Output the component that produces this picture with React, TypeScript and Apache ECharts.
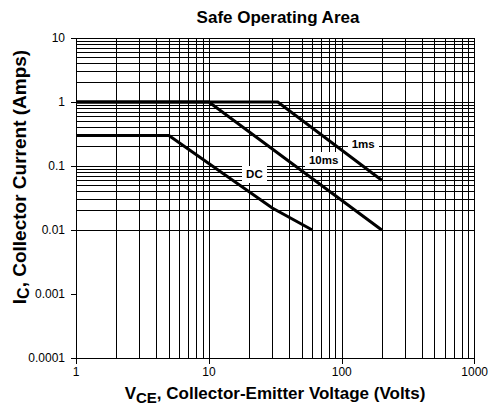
import React, { useEffect, useRef } from 'react';
import * as echarts from 'echarts';

// Axis ticks
const xTicks = [1, 10, 100, 1000];
const xTickLabels = ['1', '10', '100', '1000'];
const yTicks = [0.0001, 0.001, 0.01, 0.1, 1, 10];
const yTickLabels = ['0.0001', '0.001', '0.01', '0.1', '1', '10'];

// Log grid: multipliers inside each decade
const gridMultipliers = [1, 2, 3, 4, 5, 6, 7, 8, 9];
const xDecades = [1, 10, 100];
const yDecades = [0.0001, 0.001, 0.01, 0.1, 1];

// Curves (V in volts, I in amps)
const curveNames = ['1ms', '10ms', 'DC'];
const curve1msV = [1, 33, 200];
const curve1msI = [1, 1, 0.06];
const curve10msV = [1, 10, 200];
const curve10msI = [1, 1, 0.01];
const curveDcV = [1, 5, 30, 60];
const curveDcI = [0.3, 0.3, 0.022, 0.01];

// Curve label anchors
const labelV = [145, 73, 22];
const labelI = [0.22, 0.123, 0.074];

const FONT = 'Arial, "Liberation Sans", Helvetica, sans-serif';

function pairs(xs: number[], ys: number[]) {
  return xs.map((x, i) => [x, ys[i]]);
}

function tickFormatter(ticks: number[], labels: string[]) {
  return (v: number) => {
    const i = ticks.findIndex((t) => Math.abs(Math.log10(t) - Math.log10(v)) < 1e-6);
    return i >= 0 ? labels[i] : '';
  };
}

const CSS = `
#soa-chart svg path { shape-rendering: crispEdges; }
#soa-chart svg path[stroke-width="3"] { shape-rendering: auto; }
`;

export default function App() {
  const ref = useRef<HTMLDivElement>(null);

  useEffect(() => {
    document.body.style.margin = '0';
    if (!ref.current) return;
    const chart = echarts.init(ref.current, undefined, { renderer: 'svg' });

    const xGrid: number[] = [];
    xDecades.forEach((d) => gridMultipliers.forEach((m) => xGrid.push(d * m)));
    xGrid.push(xTicks[xTicks.length - 1]);
    const yGrid: number[] = [];
    yDecades.forEach((d) => gridMultipliers.forEach((m) => yGrid.push(d * m)));
    yGrid.push(yTicks[yTicks.length - 1]);

    const curveLine = (name: string, data: number[][]) => ({
      name,
      type: 'line',
      data,
      symbol: 'none',
      z: 3,
      silent: true,
      lineStyle: { color: '#000', width: 3, cap: 'butt', join: 'miter' },
      emphasis: { disabled: true },
    });

    const option: any = {
      animation: false,
      grid: { left: 76, right: 16, top: 38, bottom: 52, containLabel: false },
      xAxis: {
        type: 'log',
        logBase: 10,
        min: 1,
        max: 1000,
        splitLine: { show: false },
        axisLine: { show: true, lineStyle: { color: '#000', width: 1 } },
        axisTick: { show: true, length: 6, lineStyle: { color: '#000', width: 1 } },
        axisLabel: {
          color: '#000',
          fontSize: 12,
          fontFamily: FONT,
          margin: 8,
          formatter: tickFormatter(xTicks, xTickLabels),
        },
      },
      yAxis: {
        type: 'log',
        logBase: 10,
        min: 0.0001,
        max: 10,
        splitLine: { show: false },
        axisLine: { show: true, lineStyle: { color: '#000', width: 1 } },
        axisTick: { show: true, length: 5, lineStyle: { color: '#000', width: 1 } },
        axisLabel: {
          color: '#000',
          fontSize: 12,
          fontFamily: FONT,
          margin: 11,
          formatter: tickFormatter(yTicks, yTickLabels),
        },
      },
      graphic: [
        {
          type: 'text',
          x: 278,
          y: 17,
          style: {
            text: 'Safe Operating Area',
            align: 'center',
            verticalAlign: 'middle',
            fontSize: 17,
            fontWeight: 'bold',
            fontFamily: FONT,
            fill: '#000',
          },
        },
        {
          type: 'text',
          x: 275,
          y: 393,
          style: {
            text: '{m|V}{s|CE}{m|, Collector-Emitter Voltage (Volts)}',
            align: 'center',
            verticalAlign: 'middle',
            rich: {
              m: { fontSize: 17, fontWeight: 'bold', fontFamily: FONT, fill: '#000' },
              s: { fontSize: 15, fontWeight: 'bold', fontFamily: FONT, fill: '#000', padding: [9, 0, 0, 0] },
            },
          },
        },
        {
          type: 'text',
          x: 19,
          y: 177,
          rotation: Math.PI / 2,
          style: {
            text: '{m|I}{s|C}{m|, Collector Current (Amps)}',
            align: 'center',
            verticalAlign: 'middle',
            rich: {
              m: { fontSize: 19, fontWeight: 'bold', fontFamily: FONT, fill: '#000' },
              s: { fontSize: 16, fontWeight: 'bold', fontFamily: FONT, fill: '#000', padding: [9, 0, 0, 0] },
            },
          },
        },
      ],
      series: [
        {
          name: 'grid',
          type: 'line',
          data: [[1, 1]],
          symbol: 'none',
          silent: true,
          z: 1,
          lineStyle: { width: 0, opacity: 0 },
          markLine: {
            silent: true,
            z: 1,
            symbol: ['none', 'none'],
            label: { show: false },
            emphasis: { disabled: true },
            lineStyle: { color: '#000', width: 1, type: 'solid', opacity: 1 },
            data: [
              ...xGrid.map((v) => ({ xAxis: v })),
              ...yGrid.map((v) => ({ yAxis: v })),
            ],
          },
        },
        curveLine(curveNames[0], pairs(curve1msV, curve1msI)),
        curveLine(curveNames[1], pairs(curve10msV, curve10msI)),
        curveLine(curveNames[2], pairs(curveDcV, curveDcI)),
        {
          name: 'labels',
          type: 'scatter',
          z: 4,
          silent: true,
          symbolSize: 1,
          itemStyle: { color: '#fff', opacity: 1 },
          emphasis: { disabled: true },
          data: labelV.map((v, i) => ({ value: [v, labelI[i]], name: curveNames[i] })),
          label: {
            show: true,
            position: 'inside',
            formatter: '{b}',
            fontSize: 11.5,
            fontWeight: 'bold',
            fontFamily: FONT,
            color: '#000',
            opacity: 1,
            textBorderWidth: 0,
            backgroundColor: '#fff',
            padding: [3, 4, 2, 4],
          },
        },
      ],
    };

    chart.setOption(option);
    return () => chart.dispose();
  }, []);

  return (
    <>
      <style>{CSS}</style>
      <div id="soa-chart" ref={ref} style={{ width: 491, height: 410 }} />
    </>
  );
}
